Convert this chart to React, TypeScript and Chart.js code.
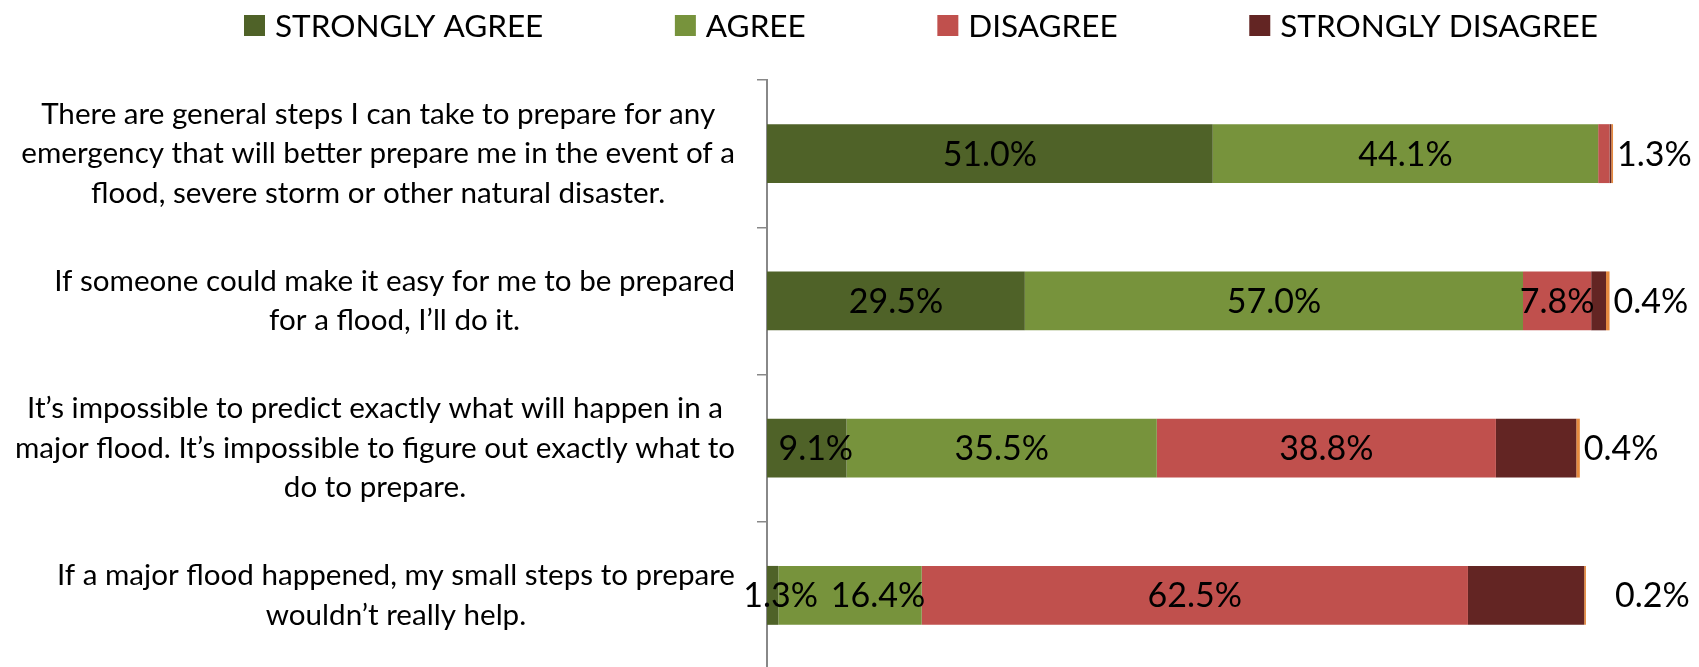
import React, { useEffect, useRef } from "react";
import { Chart, registerables } from "chart.js";

Chart.register(...registerables);

const categories: string[][] = [
  [
    "There are general steps I can take to prepare for any",
    "emergency that will better prepare me in the event of a",
    "flood, severe storm or other natural disaster.",
  ],
  ["If someone could make it easy for me to be prepared", "for a flood, I’ll do it."],
  [
    "It’s impossible to predict exactly what will happen in a",
    "major flood. It’s impossible to figure out exactly what to",
    "do to prepare.",
  ],
  ["If a major flood happened, my small steps to prepare", "wouldn’t really help."],
];

const seriesNames = ["STRONGLY AGREE", "AGREE", "DISAGREE", "STRONGLY DISAGREE", "NO ANSWER"];
const stronglyAgree = [51.0, 29.5, 9.1, 1.3];
const agree = [44.1, 57.0, 35.5, 16.4];
const disagree = [1.3, 7.8, 38.8, 62.5];
const stronglyDisagree = [0.2, 1.7, 9.2, 13.3];
const noAnswer = [0.2, 0.4, 0.4, 0.2];

const stronglyAgreeLabels = ["51.0%", "29.5%", "9.1%", "1.3%"];
const agreeLabels = ["44.1%", "57.0%", "35.5%", "16.4%"];
const disagreeLabels = ["", "7.8%", "38.8%", "62.5%"];
const stronglyDisagreeLabels = ["", "", "", ""];
const noAnswerLabels = ["", "", "", ""];
const outsideLabels = ["1.3%", "0.4%", "0.4%", "0.2%"];

const colors = ["#4F6228", "#77933C", "#C0504D", "#632523", "#E68A3E"];
const legendCount = 4;

// label nudges (style only): key = "dataset-index", px
const labelNudge: Record<string, number> = { "0-2": 9, "0-3": 8, "1-3": 28 };
const outsideNudge = [0, 0, 0, 25];

const FONT = "Lato";
const CAT_SIZE = 29.6;
const CAT_LINE = 39.5;
const LABEL_SIZE = 34;
const LEGEND_SIZE = 31.5;

export default function App() {
  const ref = useRef<HTMLCanvasElement>(null);

  useEffect(() => {
    if (!ref.current) return;
    const allLabels = [stronglyAgreeLabels, agreeLabels, disagreeLabels, stronglyDisagreeLabels, noAnswerLabels];
    const values = [stronglyAgree, agree, disagree, stronglyDisagree, noAnswer];

    const drawPlugin = {
      id: "customDraw",
      afterDraw(chart: any) {
        const ctx = chart.ctx as CanvasRenderingContext2D;
        const yScale = chart.scales.y;
        const area = chart.chartArea;
        ctx.save();
        // category labels
        ctx.fillStyle = "#000";
        ctx.font = `${CAT_SIZE}px ${FONT}`;
        ctx.textAlign = "center";
        ctx.textBaseline = "middle";
        categories.forEach((lines, i) => {
          const cy = yScale.getPixelForValue(i);
          const maxW = Math.max(...lines.map((l) => ctx.measureText(l).width));
          const cx = area.left - 32 - maxW / 2;
          lines.forEach((l, k) => {
            ctx.fillText(l, cx, cy + (k - (lines.length - 1) / 2) * CAT_LINE);
          });
        });
        // inside data labels
        ctx.font = `${LABEL_SIZE}px ${FONT}`;
        chart.data.datasets.forEach((_: any, di: number) => {
          const meta = chart.getDatasetMeta(di);
          meta.data.forEach((el: any, i: number) => {
            const txt = allLabels[di][i];
            if (!txt) return;
            const p = el.getCenterPoint();
            ctx.fillText(txt, p.x + (labelNudge[`${di}-${i}`] || 0), p.y + 1);
          });
        });
        // outside labels at end of each stack
        ctx.textAlign = "left";
        const last = chart.getDatasetMeta(chart.data.datasets.length - 1);
        last.data.forEach((el: any, i: number) => {
          ctx.fillText(outsideLabels[i], el.x + 4 + outsideNudge[i], el.y + 1);
        });
        // legend
        ctx.font = `${LEGEND_SIZE}px ${FONT}`;
        const box = 21;
        const gapText = 10;
        const startX = 244;
        const endX = 1598;
        const widths = seriesNames.slice(0, legendCount).map((n) => box + gapText + ctx.measureText(n).width);
        const total = widths.reduce((a, b) => a + b, 0);
        const gap = (endX - startX - total) / (legendCount - 1);
        let x = startX;
        const ly = 25.5;
        for (let k = 0; k < legendCount; k++) {
          ctx.fillStyle = colors[k];
          ctx.fillRect(x, ly - box / 2, box, box);
          ctx.fillStyle = "#000";
          ctx.textBaseline = "middle";
          ctx.fillText(seriesNames[k], x + box + gapText, ly + 1);
          x += widths[k] + gap;
        }
        ctx.restore();
      },
    };

    const chart = new Chart(ref.current, {
      type: "bar",
      data: {
        labels: categories.map((c) => c.join(" ")),
        datasets: seriesNames.map((name, k) => ({
          label: name,
          data: values[k],
          backgroundColor: colors[k],
          borderWidth: 0,
          barPercentage: 0.4,
          categoryPercentage: 1,
        })),
      },
      options: {
        indexAxis: "y",
        animation: false,
        responsive: false,
        events: [],
        layout: { padding: { left: 757, right: 58, top: 80, bottom: 3 } },
        plugins: { legend: { display: false }, tooltip: { enabled: false } },
        scales: {
          x: { stacked: true, min: 0, max: 100, display: false },
          y: {
            stacked: true,
            ticks: { display: false },
            grid: {
              drawOnChartArea: false,
              drawTicks: true,
              tickLength: 10,
              color: "#888888",
              lineWidth: 1.5,
            },
            border: { display: true, color: "#888888", width: 2 },
            afterFit: (scale: any) => {
              scale.width = 10;
            },
          },
        },
      },
      plugins: [drawPlugin],
    });
    return () => chart.destroy();
  }, []);

  return (
    <div style={{ position: "fixed", left: 0, top: 0, width: 1699, height: 667, overflow: "hidden", background: "#fff" }}>
      <canvas ref={ref} width={1699} height={672} style={{ display: "block", width: 1699, height: 672 }} />
    </div>
  );
}
